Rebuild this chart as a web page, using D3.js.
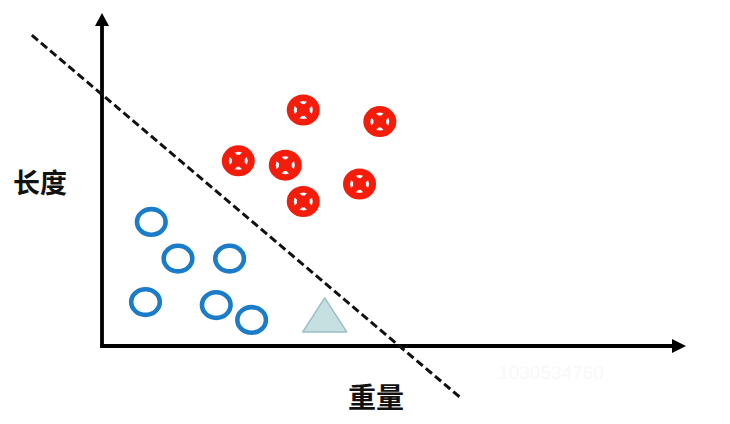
<!DOCTYPE html>
<html><head><meta charset="utf-8">
<script src="https://cdn.jsdelivr.net/npm/d3@7"></script>
<style>html,body{margin:0;padding:0;background:#fff;}svg{display:block;}</style>
</head><body>
<script>
// data (arbitrary units: weight on x, length on y)
const redX = [34.7, 47.9, 23.5, 31.6, 34.7, 44.4];
const redY = [71.5, 68.0, 56.1, 54.8, 43.8, 49.1];
const blueX = [8.5, 13.1, 22.0, 7.5, 19.7, 25.8];
const blueY = [37.6, 26.5, 26.5, 13.3, 12.4, 7.9];
const unknownX = [38.4];
const unknownY = [8.5];
const boundaryX = [-12.1, 61.7];
const boundaryY = [94.2, -15.5];
const xLabel = "重量";
const yLabel = "长度";
const watermark = "1030534760";

const W = 730, H = 424;
const x = d3.scaleLinear().domain([0, 100]).range([102, 682]);
const y = d3.scaleLinear().domain([0, 100]).range([346, 16]);

const svg = d3.select("body").append("svg").attr("width", W).attr("height", H);

// watermark
svg.append("text").attr("x", 551).attr("y", 379).attr("text-anchor", "middle")
  .attr("font-family", "Liberation Sans, Arial, sans-serif").attr("font-size", 19)
  .attr("fill", "#f8f8f8").text(watermark);

// axes
const ax = svg.append("g");
ax.append("line").attr("x1", x(0)).attr("y1", y(0)).attr("x2", x(0)).attr("y2", y(100) + 6)
  .attr("stroke", "#000").attr("stroke-width", 3.8);
ax.append("line").attr("x1", x(0) - 1.9).attr("y1", y(0)).attr("x2", x(100) - 6).attr("y2", y(0))
  .attr("stroke", "#000").attr("stroke-width", 3.8);
ax.append("path").attr("d", `M${x(0)},${y(100)-3} L${x(0)-7},${y(100)+10} L${x(0)+7},${y(100)+10} Z`).attr("fill", "#000");
ax.append("path").attr("d", `M${x(100)+4},${y(0)} L${x(100)-10},${y(0)-7} L${x(100)-10},${y(0)+7} Z`).attr("fill", "#000");

// decision boundary
svg.append("line")
  .attr("x1", x(boundaryX[0])).attr("y1", y(boundaryY[0]))
  .attr("x2", x(boundaryX[1])).attr("y2", y(boundaryY[1]))
  .attr("stroke", "#111").attr("stroke-width", 3).attr("stroke-dasharray", "8,4");

// red markers
const red = svg.append("g").selectAll("g").data(redX.map((d, i) => [d, redY[i]])).join("g")
  .attr("transform", d => `translate(${x(d[0])},${y(d[1])})`);
red.append("ellipse").attr("rx", 16.5).attr("ry", 15.5).attr("fill", "#f41d0c");
red.append("ellipse").attr("rx", 8).attr("ry", 7.5).attr("fill", "none").attr("stroke", "#fff").attr("stroke-width", 3);
red.append("path").attr("d", "M-10,-10 L10,10 M-10,10 L10,-10").attr("stroke", "#f41d0c").attr("stroke-width", 6.5);
red.append("ellipse").attr("rx", 4).attr("ry", 4).attr("fill", "#f41d0c");

// blue markers
svg.append("g").selectAll("ellipse").data(blueX.map((d, i) => [d, blueY[i]])).join("ellipse")
  .attr("cx", d => x(d[0])).attr("cy", d => y(d[1]))
  .attr("rx", 14.3).attr("ry", 12.8)
  .attr("fill", "none").attr("stroke", "#1b7cc9").attr("stroke-width", 4.6);

// unknown triangle
svg.append("g").selectAll("path").data(unknownX.map((d, i) => [d, unknownY[i]])).join("path")
  .attr("transform", d => `translate(${x(d[0])},${y(d[1])})`)
  .attr("d", "M0,-20 L22,14 L-22,14 Z")
  .attr("fill", "#c6e0e2").attr("stroke", "#9bbfc2").attr("stroke-width", 1.5).attr("stroke-linejoin", "round");

// labels
svg.append("text").attr("x", 40).attr("y", 193).attr("text-anchor", "middle")
  .attr("font-family", "Noto Sans CJK SC").attr("font-weight", "bold").attr("font-size", 27)
  .attr("fill", "#111").text(yLabel);
svg.append("text").attr("x", 376).attr("y", 408).attr("text-anchor", "middle")
  .attr("font-family", "Noto Sans CJK SC").attr("font-weight", "bold").attr("font-size", 28)
  .attr("fill", "#111").text(xLabel);
</script>
</body></html>
